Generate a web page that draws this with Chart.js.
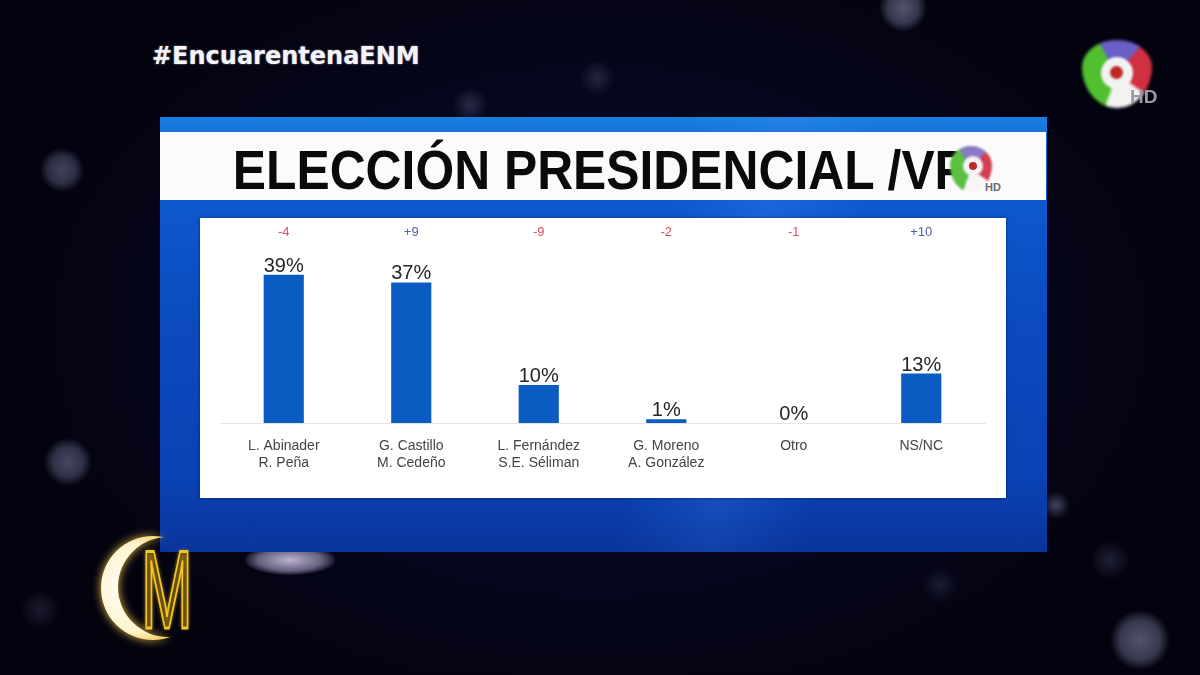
<!DOCTYPE html>
<html>
<head>
<meta charset="utf-8">
<script src="https://cdn.jsdelivr.net/npm/chart.js@4.4.0/dist/chart.umd.min.js"></script>
<style>
  html, body { margin:0; padding:0; }
  body {
    width:1200px; height:675px; overflow:hidden; position:relative;
    background:
      radial-gradient(circle at 62px 170px, rgba(120,120,160,0.55) 0, rgba(120,120,160,0.35) 14px, rgba(120,120,160,0) 22px),
      radial-gradient(circle at 68px 462px, rgba(130,130,170,0.55) 0, rgba(130,130,170,0.35) 15px, rgba(130,130,170,0) 24px),
      radial-gradient(circle at 903px 8px, rgba(150,150,190,0.55) 0, rgba(150,150,190,0.35) 15px, rgba(150,150,190,0) 24px),
      radial-gradient(circle at 1140px 640px, rgba(150,150,190,0.55) 0, rgba(150,150,190,0.35) 20px, rgba(150,150,190,0) 30px),
      radial-gradient(circle at 1056px 505px, rgba(130,130,170,0.5) 0, rgba(130,130,170,0) 14px),
      radial-gradient(circle at 470px 105px, rgba(110,110,150,0.35) 0, rgba(110,110,150,0) 18px),
      radial-gradient(circle at 597px 78px, rgba(110,110,150,0.3) 0, rgba(110,110,150,0) 18px),
      radial-gradient(circle at 1110px 560px, rgba(100,100,140,0.3) 0, rgba(100,100,140,0) 20px),
      radial-gradient(circle at 940px 585px, rgba(100,100,140,0.25) 0, rgba(100,100,140,0) 18px),
      radial-gradient(circle at 40px 610px, rgba(100,100,140,0.25) 0, rgba(100,100,140,0) 20px),
      radial-gradient(ellipse 600px 400px at 600px 330px, #0b0b2c 0, #05051a 70%, #03030f 100%);
  }
  .abs { position:absolute; }
  #bokehBottom { left:245px; top:545px; width:90px; height:30px; border-radius:50%;
    background: radial-gradient(ellipse at center, rgba(220,210,240,0.85) 0, rgba(200,190,230,0.5) 50%, rgba(200,190,230,0) 75%); }
  #hashtag { left:152px; top:44px; font-family:"DejaVu Sans"; font-weight:bold; font-size:24px; line-height:24px;
    color:#f4f4f8; text-shadow:0 0 2px rgba(255,255,255,0.6); white-space:nowrap; }
  #panel { left:160px; top:117px; width:887px; height:435px;
    background:
      linear-gradient(100deg, rgba(255,255,255,0) 55%, rgba(60,140,255,0.25) 65%, rgba(255,255,255,0) 75%),
      linear-gradient(180deg, #1a7fe0 0, #1574da 15px, #0d58cc 90px, #0b4bc0 200px, #0a44b6 330px, #0b3fae 435px); }
  #panelShade { left:160px; top:480px; width:887px; height:72px;
    background: linear-gradient(180deg, rgba(6,30,120,0) 0, rgba(6,30,120,0.35) 100%); }
  #titlebar { left:160px; top:132px; width:886px; height:68px; background:#fbfbfb; }
  #title { left:0; top:142px; width:1200px; text-align:center; font-family:"Liberation Sans", Arial, sans-serif;
    font-weight:bold; font-size:56px; line-height:56px; color:#0a0a0a; white-space:nowrap; }
  #title span { display:inline-block; transform-origin:50% 50%; }
  #chartbox { left:200px; top:218px; width:806px; height:280px; background:#ffffff;
    box-shadow: 0 0 3px rgba(0,0,40,0.5); }
  #chartbox canvas { position:absolute; left:0; top:0; }
  /* small logo in title */
  #tlogo { left:950px; top:146px; width:42px; height:46px; border-radius:50% 50% 50% 50% / 42% 42% 58% 58%;
    background: conic-gradient(#8a78c8 0 40deg, #d04050 40deg 125deg, #f6f6f6 125deg 200deg, #5cc040 200deg 330deg, #8a78c8 330deg 360deg);
    filter: blur(1px); }
  #tlogoIn { left:963px; top:156px; width:20px; height:20px; border-radius:50%; background:#f4f4f4; filter: blur(1px); }
  #tlogoDot { left:969px; top:162px; width:8px; height:8px; border-radius:50%; background:#c02830; filter: blur(0.6px); }
  #tlogoHD { left:985px; top:181px; font-family:"Liberation Sans"; font-weight:bold; font-size:11px; color:#6a6a6a; }
  /* channel logo top right */
  #logo9 { left:1082px; top:40px; width:70px; height:68px; border-radius:50% 50% 50% 50% / 40% 40% 60% 60%;
    background: conic-gradient(#6a60c8 0 40deg, #d03040 40deg 125deg, #f2f2f2 125deg 200deg, #50c030 200deg 330deg, #6a60c8 330deg 360deg);
    filter: blur(1.5px); }
  #logo9In { left:1101px; top:57px; width:32px; height:32px; border-radius:50%; background:#f2f2f2; filter: blur(1px); }
  #logo9Dot { left:1110px; top:66px; width:13px; height:13px; border-radius:50%; background:#c02828; filter: blur(1px); }
  #logo9HD { left:1130px; top:86px; font-family:"Liberation Sans"; font-weight:bold; font-size:19px; color:#9a9aa8; filter: blur(0.5px); }
  /* M logo */
  #moon { left:90px; top:528px; width:130px; height:124px; filter: drop-shadow(0 0 5px rgba(255,205,70,0.9)); }
  #mletter { left:121px; top:540px; width:90px; text-align:center; font-family:"Liberation Sans"; font-size:112px; line-height:100px;
    color:rgba(40,30,0,0.5); -webkit-text-stroke:3px #f5c623; text-shadow: 0 0 6px rgba(255,200,40,0.9);
    transform: scaleX(0.55); transform-origin: 50% 50%; }
</style>
</head>
<body>
<div id="bokehBottom" class="abs"></div>
<div id="hashtag" class="abs">#EncuarentenaENM</div>
<div id="logo9" class="abs"></div>
<div id="logo9In" class="abs"></div>
<div id="logo9Dot" class="abs"></div>
<div id="logo9HD" class="abs">HD</div>

<div id="panel" class="abs"></div>
<div id="panelShade" class="abs"></div>
<div id="titlebar" class="abs"></div>
<div id="title" class="abs"><span id="titleText">ELECCIÓN PRESIDENCIAL /VP</span></div>
<div id="tlogo" class="abs"></div>
<div id="tlogoIn" class="abs"></div>
<div id="tlogoDot" class="abs"></div>
<div id="tlogoHD" class="abs">HD</div>

<div id="chartbox" class="abs"><canvas id="c" width="806" height="280"></canvas></div>

<svg id="moon" class="abs" viewBox="0 0 130 124">
  <defs>
    <mask id="cres">
      <rect x="0" y="0" width="130" height="124" fill="white"/>
      <circle cx="78" cy="59" r="50" fill="black"/>
    </mask>
    <radialGradient id="cg" cx="0.3" cy="0.5" r="0.6">
      <stop offset="0" stop-color="#ffffff"/>
      <stop offset="0.7" stop-color="#fff4cc"/>
      <stop offset="1" stop-color="#f3c34a"/>
    </radialGradient>
  </defs>
  <circle cx="63" cy="60" r="52" fill="url(#cg)" mask="url(#cres)"/>
</svg>
<div id="mletter" class="abs">M</div>

<script>
// ---- data ----
const categories = [
  ["L. Abinader", "R. Peña"],
  ["G. Castillo", "M. Cedeño"],
  ["L. Fernández", "S.E. Séliman"],
  ["G. Moreno", "A. González"],
  ["Otro"],
  ["NS/NC"]
];
const votePercent = [39, 37, 10, 1, 0, 13];
const changeVsPrevious = [-4, 9, -9, -2, -1, 10];

// ---- title fit ----
(function(){
  const el = document.getElementById('titleText');
  const w = el.getBoundingClientRect().width;
  el.style.transform = 'scaleX(' + (735 / w) + ')';
})();

const valueLabels = {
  id: 'valueLabels',
  afterDatasetsDraw(chart) {
    const ctx = chart.ctx;
    const meta = chart.getDatasetMeta(0);
    ctx.save();
    ctx.font = '20px "Liberation Sans", Arial, sans-serif';
    ctx.fillStyle = '#262626';
    ctx.textAlign = 'center';
    ctx.textBaseline = 'alphabetic';
    meta.data.forEach((bar, i) => {
      ctx.fillText(votePercent[i] + '%', bar.x, bar.y - 3);
    });
    ctx.restore();
  }
};

const changeLabels = {
  id: 'changeLabels',
  afterDraw(chart) {
    const ctx = chart.ctx;
    const xs = chart.scales.x;
    ctx.save();
    ctx.font = '13px "Liberation Sans", Arial, sans-serif';
    ctx.textAlign = 'center';
    ctx.textBaseline = 'middle';
    changeVsPrevious.forEach((v, i) => {
      ctx.fillStyle = v > 0 ? '#4f63a0' : '#e04a62';
      const txt = (v > 0 ? '+' : '') + v;
      ctx.fillText(txt, xs.getPixelForValue(i), chart.chartArea.top - 20);
    });
    ctx.restore();
  }
};

new Chart(document.getElementById('c'), {
  type: 'bar',
  data: {
    labels: categories,
    datasets: [{
      data: votePercent,
      backgroundColor: '#0b5cc2',
      borderWidth: 0,
      categoryPercentage: 1.0,
      barPercentage: 0.315
    }]
  },
  options: {
    responsive: false,
    animation: false,
    devicePixelRatio: 1,
    layout: { padding: { left: 20, right: 21, top: 34, bottom: 12 } },
    plugins: { legend: { display: false }, tooltip: { enabled: false } },
    scales: {
      x: {
        grid: { display: false, drawTicks: false },
        border: { display: true, color: '#e4e4e4', width: 1 },
        ticks: {
          padding: 14,
          color: '#444444',
          font: { family: '"Liberation Sans", Arial, sans-serif', size: 14, lineHeight: 1.25 },
          maxRotation: 0, autoSkip: false
        }
      },
      y: {
        display: false,
        min: 0, max: 45
      }
    }
  },
  plugins: [valueLabels, changeLabels]
});
</script>
</body>
</html>
